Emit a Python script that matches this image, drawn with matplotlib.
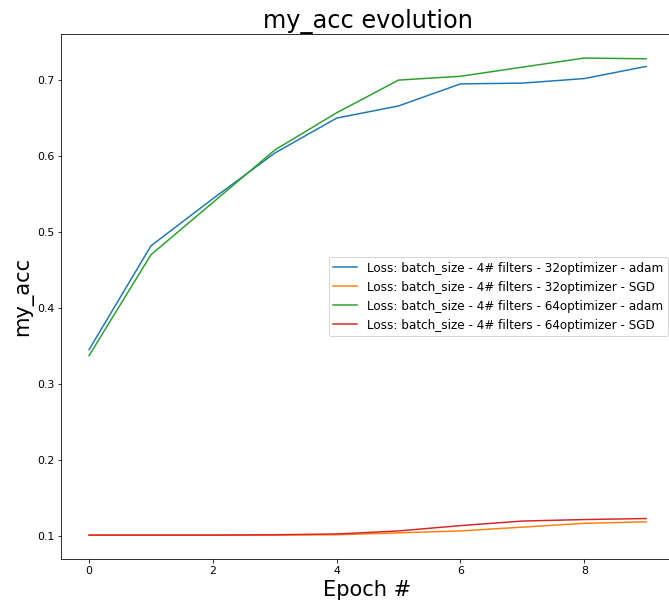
''' plot.py - my_acc evolution '''
import matplotlib
matplotlib.use('Agg')
import matplotlib.pyplot as plt

epochs = list(range(10))

adam_32 = [0.3455, 0.482, 0.544, 0.604, 0.650, 0.666, 0.695, 0.696, 0.702, 0.718]
sgd_32 = [0.1015, 0.1015, 0.1015, 0.1015, 0.102, 0.1045, 0.107, 0.112, 0.117, 0.119]
adam_64 = [0.3376, 0.4703, 0.539, 0.608, 0.657, 0.700, 0.705, 0.717, 0.729, 0.728]
sgd_64 = [0.1015, 0.1015, 0.1015, 0.102, 0.103, 0.107, 0.114, 0.120, 0.122, 0.1233]

labels = [
    'Loss: batch_size - 4# filters - 32optimizer - adam',
    'Loss: batch_size - 4# filters - 32optimizer - SGD',
    'Loss: batch_size - 4# filters - 64optimizer - adam',
    'Loss: batch_size - 4# filters - 64optimizer - SGD',
]


def main():
    ''' entry point '''
    fig = plt.figure(figsize=(669 / 72, 606 / 72), dpi=72)
    ax = fig.add_axes([0.0915, 0.0776, 0.916, 0.866])

    for series, label in zip([adam_32, sgd_32, adam_64, sgd_64], labels):
        ax.plot(epochs, series, label=label)

    ax.set_title('my_acc evolution', fontsize=24)
    ax.set_xlabel('Epoch #', fontsize=21)
    ax.set_ylabel('my_acc', fontsize=21)
    ax.tick_params(labelsize=11)
    ax.legend(loc='center right', fontsize=12)

    fig.savefig('out.png', dpi=72)


if __name__ == '__main__':
    main()
